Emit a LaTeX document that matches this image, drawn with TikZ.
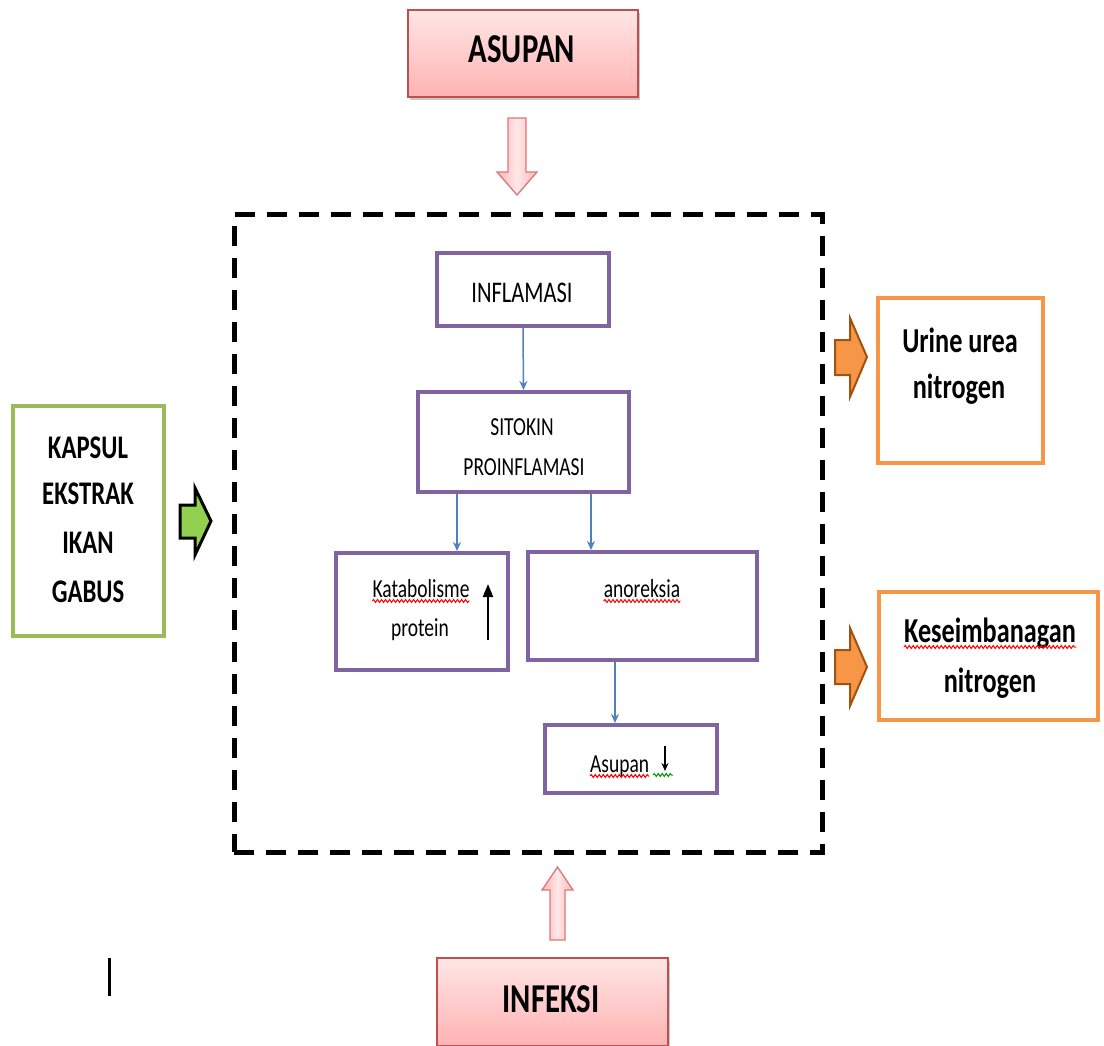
\documentclass[tikz,border=0pt]{standalone}
\usepackage{fontspec}
\setmainfont{Carlito}[FakeStretch=0.75]
\usetikzlibrary{shadows,decorations.pathmorphing,arrows.meta,calc}
\definecolor{pinkborder}{HTML}{C0504D}
\definecolor{pinkarrow}{HTML}{D9797A}
\definecolor{purpleb}{HTML}{8064A2}
\definecolor{greenb}{HTML}{9BBB59}
\definecolor{greenfill}{HTML}{92D050}
\definecolor{orangeb}{HTML}{F79646}
\definecolor{orangedark}{HTML}{A0520F}
\definecolor{bluel}{HTML}{4F81BD}
\begin{document}
\begin{tikzpicture}[x=1pt,y=-1pt,
  pinkbox/.style={draw=pinkborder, line width=1.5pt, top color=pink!40!white, bottom color=red!30!white,
    drop shadow={shadow xshift=2pt, shadow yshift=-3pt, opacity=0.35, fill=black!60},
    inner sep=0pt},
  purplebox/.style={draw=purpleb, line width=4pt, fill=white, inner sep=0pt},
  greenbox/.style={draw=greenb, line width=4pt, fill=white, inner sep=0pt},
  orangebox/.style={draw=orangeb, line width=4pt, fill=white, inner sep=0pt},
  framebox/.style={draw=black, line width=5pt, dash pattern=on 20pt off 12pt, inner sep=0pt},
  pinkarr/.style={draw=pinkarrow, line width=1.3pt, left color=red!30!white, right color=red!30!white, middle color=pink!35!white},
  greenarr/.style={draw=black, line width=3pt, fill=greenfill, line join=miter},
  orangearr/.style={draw=orangedark, line width=2pt, fill=orangeb},
  bluearr/.style={draw=bluel, line width=1.5pt, -{Stealth[length=9pt,width=8pt]}},
  txt/.style={anchor=base, inner sep=0pt, text=black},
  bigB/.style={txt, font=\bfseries\fontsize{41}{41}\selectfont},
  midB/.style={txt, font=\bfseries\fontsize{33}{33}\selectfont},
  sideB/.style={txt, font=\bfseries\fontsize{35}{35}\selectfont},
  inT/.style={txt, font=\fontsize{30}{30}\selectfont},
  smT/.style={txt, font=\fontsize{26}{26}\selectfont},
  squig/.style={draw=red, line width=1pt, decorate, decoration={snake, segment length=4pt, amplitude=1.5pt}},
  squigg/.style={draw=green!60!black, line width=1pt, decorate, decoration={snake, segment length=4pt, amplitude=1.5pt}}
]
\fill[white] (0,0) rectangle (1104,1046);
\useasboundingbox (0,0) rectangle (1104,1046);

% dashed frame
\node[framebox, minimum width=588pt, minimum height=637pt] (frame) at (528,533.5) {};

% pink boxes
\node[pinkbox, minimum width=230pt, minimum height=87pt] (asupan) at (523,53.5) {};
\node[bigB] (asupanT) at (522,63) {ASUPAN};
\node[pinkbox, minimum width=231pt, minimum height=88pt] (infeksi) at (552.5,1002) {};
\node[bigB] (infeksiT) at (551,1012) {INFEKSI};

% pink block arrows
\draw[pinkarr] (508,118) -- (526,118) -- (526,172) -- (537,172) -- (517,195) -- (497,172) -- (508,172) -- cycle;
\draw[pinkarr] (550,940) -- (565,940) -- (565,890) -- (573,890) -- (557.5,867) -- (542,890) -- (550,890) -- cycle;

% inner purple boxes
\node[purplebox, minimum width=172pt, minimum height=73pt] (infl) at (523,289.5) {};
\node[inT] (inflT) at (522,302) {INFLAMASI};
\node[purplebox, minimum width=211pt, minimum height=100pt] (sito) at (523.5,442) {};
\node[smT] (sitoT1) at (522,435) {SITOKIN};
\node[smT] (sitoT2) at (524,475) {PROINFLAMASI};
\node[purplebox, minimum width=172pt, minimum height=117pt] (kat) at (421.5,611.5) {};
\node[smT] (katT1) at (421,597) {Katabolisme};
\node[smT] (katT2) at (420,636) {protein};
\node[purplebox, minimum width=229pt, minimum height=108pt] (anor) at (642.5,606) {};
\node[smT] (anorT) at (642,597) {anoreksia};
\node[purplebox, minimum width=172pt, minimum height=68pt] (asup) at (631,759) {};
\node[smT, anchor=base west] (asupT) at (590,772) {Asupan};
\coordinate (downTop) at (665,746);
\coordinate (downBot) at (665,771);
\draw[black, line width=1.2pt, -{Stealth[length=8pt,width=7pt]}] (downTop) -- (downBot);

% spell-check squiggles
\draw[squig] ($(katT1.base west)+(0,4)$) -- ($(katT1.base east)+(0,4)$);
\draw[squig] ($(anorT.base west)+(0,4)$) -- ($(anorT.base east)+(0,4)$);
\draw[squig] ($(asupT.base west)+(0,4)$) -- ($(asupT.base east)+(0,4)$);
\draw[squigg] (653,775) -- (673,775);

% black up arrow (Katabolisme)
\coordinate (upBot) at (488,640);
\coordinate (upTop) at (488,584);
\draw[black, line width=2.2pt, -{Triangle[length=13pt,width=10pt]}] (upBot) -- (upTop);

% blue connectors
\draw[bluearr] (infl.south) -- (sito.north);
\draw[bluearr] (sito.south -| 457,0) -- (kat.north -| 457,0);
\draw[bluearr] (sito.south -| 591,0) -- (anor.north -| 591,0);
\draw[bluearr] (anor.south -| 615,0) -- (asup.north -| 615,0);

% left green box
\node[greenbox, minimum width=151pt, minimum height=230pt] (kapsul) at (88.5,521) {};
\node[midB] (k1) at (88,458) {KAPSUL};
\node[midB] (k2) at (88,504) {EKSTRAK};
\node[midB] (k3) at (88,553) {IKAN};
\node[midB] (k4) at (88,602) {GABUS};
\draw[greenarr] (180,505) -- (195,505) -- (195,488) -- (211,521) -- (195,555) -- (195,538) -- (180,538) -- cycle;

% right orange boxes
\node[orangebox, minimum width=165pt, minimum height=165pt] (urine) at (960.5,380.5) {};
\node[sideB] (u1) at (960,352) {Urine urea};
\node[sideB] (u2) at (959,398) {nitrogen};
\node[orangebox, minimum width=219pt, minimum height=128pt] (kes) at (988.5,656) {};
\node[sideB] (kes1) at (990,642) {Keseimbanagan};
\node[sideB] (kes2) at (990,692) {nitrogen};
\draw[squig] ($(kes1.base west)+(0,5)$) -- ($(kes1.base east)+(0,5)$);
\draw[orangearr] (835,340) -- (850,340) -- (850,318) -- (867,357) -- (850,397) -- (850,375) -- (835,375) -- cycle;
\draw[orangearr] (835,650) -- (850,650) -- (850,628) -- (867,667) -- (850,706) -- (850,684) -- (835,684) -- cycle;

% cursor mark
\coordinate (curTop) at (109,958);
\coordinate (curBot) at (109,996);
\draw[black, line width=3pt] (curTop) -- (curBot);
\end{tikzpicture}
\end{document}
